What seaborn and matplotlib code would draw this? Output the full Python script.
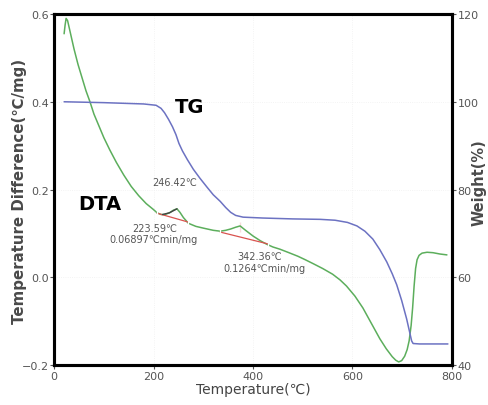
import numpy as np
import pandas as pd
import matplotlib
matplotlib.use("Agg")
import matplotlib.pyplot as plt
import seaborn as sns

# ---- data ----
dta_temp = [20, 22, 24, 27, 32, 40, 48, 56, 64, 72, 80, 90, 100, 112, 125, 140, 155, 170,
            185, 199, 207, 215, 223, 232, 240, 247, 253, 260, 270, 285, 300, 320, 334, 345,
            355, 365, 374, 385, 400, 415, 428, 440, 454, 470, 490, 505, 521, 540, 560, 575,
            588, 605, 621, 638, 655, 668, 680, 687, 693, 699, 705, 710, 714, 718, 721, 724,
            727, 730, 734, 740, 750, 762, 776, 790]
dta_val = [0.555, 0.575, 0.59, 0.585, 0.56, 0.52, 0.485, 0.455, 0.425, 0.40, 0.372, 0.345,
           0.318, 0.29, 0.262, 0.233, 0.207, 0.186, 0.168, 0.155, 0.147, 0.143, 0.143, 0.147,
           0.153, 0.156, 0.148, 0.136, 0.123, 0.116, 0.112, 0.107, 0.105, 0.107, 0.110, 0.114,
           0.117, 0.107, 0.094, 0.083, 0.075, 0.069, 0.064, 0.057, 0.048, 0.040, 0.031, 0.020,
           0.007, -0.006, -0.020, -0.043, -0.070, -0.105, -0.140, -0.163, -0.181, -0.189,
           -0.193, -0.190, -0.180, -0.165, -0.145, -0.11, -0.07, -0.02, 0.02, 0.040, 0.050,
           0.055, 0.057, 0.056, 0.053, 0.051]

tg_temp = [20, 100, 180, 205, 215, 222, 230, 238, 245, 251, 258, 268, 280, 293, 307, 320,
           334, 345, 355, 365, 380, 420, 480, 535, 565, 590, 609, 625, 641, 655, 669, 680,
           689, 699, 709, 715, 719, 722, 735, 792]
tg_val = [100.0, 99.8, 99.5, 99.2, 98.5, 97.5, 96.0, 94.3, 92.5, 90.5, 88.8, 86.8, 84.6,
          82.6, 80.6, 78.8, 77.3, 75.9, 74.8, 74.1, 73.7, 73.5, 73.3, 73.2, 73.0, 72.5, 71.7,
          70.5, 68.7, 66.3, 63.5, 60.8, 58.3, 54.7, 50.5, 47.5, 45.5, 44.9, 44.8, 44.8]

# baselines / markers
base1_t = [207, 269]
base1_v = [0.146, 0.126]
base2_t = [334, 430]
base2_v = [0.103, 0.076]
peak1_t = [218, 232, 247]
peak1_v = [0.143, 0.147, 0.156]
peak2_t = [374, 374]
peak2_v = [0.126, 0.104]

xticks = [0, 200, 400, 600, 800]
left_ticks = [-0.2, 0.0, 0.2, 0.4, 0.6]
right_ticks = [40, 60, 80, 100, 120]

ann_texts = ["246.42\u2103", "223.59\u2103", "0.06897\u2103min/mg", "342.36\u2103", "0.1264\u2103min/mg"]
ann_x = [243, 203, 199, 414, 422]
ann_y = [0.217, 0.112, 0.087, 0.048, 0.022]

sns.set_style("white")
plt.rcParams['font.family'] = ['DejaVu Sans']

green = "#5cae5c"
blue = "#6c72c2"
red = "#d9534f"
gray = "#555555"

W, H = 488, 406
fig = plt.figure(figsize=(4.88, 4.06), dpi=100)
ax = fig.add_axes([0.111, 0.0985, 0.815, 0.8645])
ax2 = ax.twinx()

dta = pd.DataFrame({"Temperature": dta_temp, "DTA": dta_val})
tg = pd.DataFrame({"Temperature": tg_temp, "TG": tg_val})

sns.lineplot(data=dta, x="Temperature", y="DTA", ax=ax, color=green, lw=1.1)
sns.lineplot(data=tg, x="Temperature", y="TG", ax=ax2, color=blue, lw=1.1)

# baseline construction lines
sns.lineplot(x=base1_t, y=base1_v, ax=ax, color=red, lw=0.9, marker="|", markersize=6,
             markeredgewidth=0.9)
sns.lineplot(x=base2_t, y=base2_v, ax=ax, color=red, lw=0.9, marker="|", markersize=6,
             markeredgewidth=0.9)
sns.lineplot(x=peak1_t, y=peak1_v, ax=ax, color="#444444", lw=1.0)
sns.lineplot(x=peak2_t, y=peak2_v, ax=ax, color=red, lw=0.9)

ax.set_xlim(0, 800)
ax.set_ylim(-0.2, 0.6)
ax2.set_ylim(40, 120)
ax.set_xticks(xticks)
ax.set_yticks(left_ticks)
ax2.set_yticks(right_ticks)
ax.set_xticklabels([str(t) for t in xticks])
ax.set_yticklabels(["\u22120.2", "0.0", "0.2", "0.4", "0.6"])
ax2.set_yticklabels([str(t) for t in right_ticks])

for a in (ax, ax2):
    a.tick_params(axis="both", labelsize=8, labelcolor=gray, length=3, width=0.8,
                  color=gray, direction="out", pad=1)
ax.tick_params(axis="x", bottom=True)
ax.tick_params(axis="y", left=True)
ax2.tick_params(axis="y", right=True)

for a in (ax, ax2):
    for s in a.spines.values():
        s.set_linewidth(2.2)
        s.set_color("black")

ax.grid(True, color="#f0f0f0", lw=0.6, ls=":")

ax.set_xlabel("Temperature(\u2103)", fontsize=10, color="#444444", labelpad=1)
ax.set_ylabel("")
ax2.set_ylabel("")
fig.text(20 / W, 1 - 191 / H, "Temperature Difference(\u2103/mg)", rotation=90,
         fontsize=10.8, fontweight="bold", color="#4a4a4a", ha="center", va="center")
fig.text(479 / W, 1 - 183 / H, "Weight(%)", rotation=90,
         fontsize=10.5, fontweight="bold", color="#4a4a4a", ha="center", va="center")

ax.text(273, 0.39, "TG", fontsize=14, fontweight="bold", ha="center", va="center", color="black")
ax.text(92, 0.167, "DTA", fontsize=14, fontweight="bold", ha="center", va="center", color="black")

for t, x, y in zip(ann_texts, ann_x, ann_y):
    ax.text(x, y, t, fontsize=7, color=gray, ha="center", va="center")

fig.savefig("out.png", dpi=100)
